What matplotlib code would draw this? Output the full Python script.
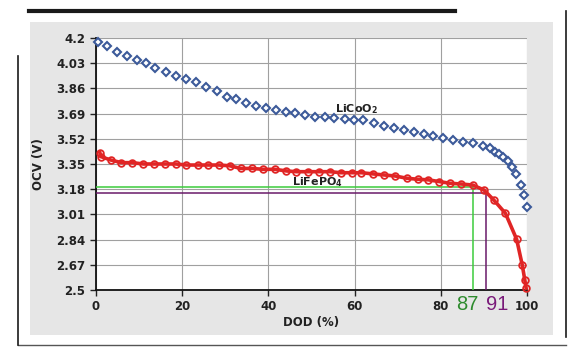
import matplotlib.pyplot as plt
from matplotlib.lines import Line2D
from matplotlib.patches import Rectangle

# LiCoO2 (blue diamonds)
lco_dod = [0.4, 2.6, 4.9, 7.2, 9.4, 11.5, 13.8, 16.2, 18.5, 20.8, 23.2, 25.5, 28.0, 30.3,
           32.4, 34.7, 37.1, 39.4, 41.8, 44.0, 46.2, 48.5, 50.8, 53.1, 55.2, 57.8, 59.9,
           61.9, 64.5, 66.8, 69.1, 71.5, 73.8, 76.1, 78.2, 80.5, 82.8, 85.2, 87.5, 89.8,
           91.4, 92.6, 93.5, 94.5, 95.5, 96.5, 97.5, 98.5, 99.3, 100.0]
lco_ocv = [4.171, 4.146, 4.108, 4.081, 4.052, 4.029, 3.996, 3.973, 3.944, 3.923, 3.901, 3.867,
           3.842, 3.804, 3.786, 3.764, 3.743, 3.726, 3.714, 3.703, 3.692, 3.681, 3.669, 3.665,
           3.658, 3.654, 3.650, 3.647, 3.625, 3.606, 3.591, 3.579, 3.564, 3.552, 3.539, 3.527,
           3.512, 3.500, 3.490, 3.471, 3.456, 3.433, 3.42, 3.40, 3.37, 3.33, 3.28, 3.21,
           3.14, 3.06]

# LiFePO4 (red circles)
lfp_dod = [0.9, 1.1, 3.4, 5.9, 8.4, 11.0, 13.5, 16.0, 18.5, 21.0, 23.6, 26.0, 28.5, 31.0,
           33.6, 36.2, 38.8, 41.5, 44.2, 46.5, 49.2, 51.8, 54.3, 56.8, 59.3, 61.6, 64.3,
           66.8, 69.4, 72.1, 74.6, 77.1, 79.7, 82.1, 84.7, 87.4, 90.0, 92.3, 95.0, 97.6,
           98.9, 99.5, 99.8]
lfp_ocv = [3.426, 3.40, 3.377, 3.359, 3.359, 3.35, 3.35, 3.35, 3.35, 3.343, 3.343, 3.343,
           3.343, 3.338, 3.32, 3.32, 3.314, 3.314, 3.303, 3.298, 3.298, 3.298, 3.298, 3.291,
           3.291, 3.291, 3.283, 3.276, 3.269, 3.254, 3.247, 3.243, 3.231, 3.22, 3.215, 3.208,
           3.175, 3.107, 3.017, 2.842, 2.669, 2.567, 2.513]

yticks = [2.5, 2.67, 2.84, 3.01, 3.18, 3.35, 3.52, 3.69, 3.86, 4.03, 4.2]
ytick_labels = ['2.5', '2.67', '2.84', '3.01', '3.18', '3.35', '3.52', '3.69', '3.86', '4.03', '4.2']
xticks = [0, 20, 40, 60, 80, 100]

mark87 = (87.4, 3.197)
mark91 = (90.6, 3.156)

fig = plt.figure(figsize=(5.8, 3.53), dpi=100)
fig.patch.set_facecolor('white')

# grey chart area + outer frame
fig.add_artist(Rectangle((0.052, 0.051), 0.901, 0.887, transform=fig.transFigure,
                         facecolor='#e6e6e6', edgecolor='none', zorder=0))
fig.add_artist(Line2D([0.05, 0.785], [0.97, 0.97], transform=fig.transFigure, color='#1a1a1a', lw=3))
fig.add_artist(Line2D([0.976, 0.976], [0.045, 0.97], transform=fig.transFigure, color='#1a1a1a', lw=1.2))
fig.add_artist(Line2D([0.031, 0.976], [0.023, 0.023], transform=fig.transFigure, color='#555555', lw=1))
fig.add_artist(Line2D([0.031, 0.031], [0.023, 0.84], transform=fig.transFigure, color='#1a1a1a', lw=1.2))

ax = fig.add_axes([0.1655, 0.1785, 0.7431, 0.7139])
ax.set_facecolor('white')

ax.plot(lco_dod, lco_ocv, linestyle='none', marker='D', markersize=4.3, markerfacecolor='white',
        markeredgecolor='#3c5a9a', markeredgewidth=1.5, zorder=4, clip_on=False)
ax.plot(lfp_dod, lfp_ocv, color='#e02525', lw=2.6, marker='o', markersize=4.8, markerfacecolor='none',
        markeredgecolor='#e02525', markeredgewidth=1.3, zorder=5, clip_on=False)

# reference lines
ax.plot([0, mark87[0], mark87[0]], [mark87[1], mark87[1], 2.5], color='#3ccc3c', lw=1.1, zorder=3)
ax.plot([0, mark91[0], mark91[0]], [mark91[1], mark91[1], 2.5], color='#6a1a6a', lw=1.1, zorder=3)

ax.set_xlim(0, 100)
ax.set_ylim(2.5, 4.2)
ax.set_yticks(yticks)
ax.set_yticklabels(ytick_labels)
ax.set_xticks(xticks)
ax.grid(True, color='#a0a0a0', lw=0.8)
ax.set_axisbelow(True)
for s in ['top', 'right']:
    ax.spines[s].set_visible(False)
for s in ['left', 'bottom']:
    ax.spines[s].set_color('#111111')
    ax.spines[s].set_linewidth(1.3)
ax.tick_params(labelsize=8.5, colors='#222222', length=4, width=1, direction='out')
for lab in ax.get_xticklabels() + ax.get_yticklabels():
    lab.set_fontweight('bold')

ax.set_xlabel('DOD (%)', fontsize=8.5, fontweight='bold', color='#222222', labelpad=2)
ax.set_ylabel('OCV (V)', fontsize=8.5, fontweight='bold', color='#222222', labelpad=8)

ax.text(55.5, 3.70, r'LiCoO$_{\mathbf{2}}$', fontsize=8, fontweight='bold', color='#222222')
ax.text(45.5, 3.205, r'LiFePO$_{\mathbf{4}}$', fontsize=8, fontweight='bold', color='#222222')

ax.text(86.2, -0.02, '87', transform=ax.get_xaxis_transform(), ha='center', va='top',
        fontsize=14.5, family='Liberation Sans', color='#2e8b2e')
ax.text(93.0, -0.02, '91', transform=ax.get_xaxis_transform(), ha='center', va='top',
        fontsize=14.5, family='Liberation Sans', color='#7a1a7a')

fig.savefig('out.png', dpi=100)
